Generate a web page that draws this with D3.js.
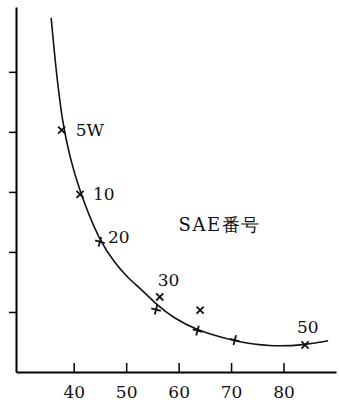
<!DOCTYPE html>
<html>
<head>
<meta charset="utf-8">
<script src="https://cdn.jsdelivr.net/npm/d3@7"></script>
<style>
  html, body { margin: 0; padding: 0; background: #fff; }
  svg { display: block; }
</style>
</head>
<body>
<div id="chart"></div>
<script>
// viscosity curve vs temperature
const curveX = [35.7, 37.7, 41.2, 45.0, 47.9, 50.4, 53.0, 55.8, 59.0, 63.5, 67.3, 70.4, 77.4, 84.1, 88.5];
const curveY = [5.9, 4.03, 2.97, 2.17, 1.81, 1.56, 1.37, 1.12, 0.90, 0.70, 0.60, 0.52, 0.42, 0.45, 0.52];

// measured points (x marks and + marks)
const pointX = [37.7, 41.2, 45.0, 56.4, 55.7, 64.1, 63.6, 70.7, 84.1];
const pointY = [4.03, 2.96, 2.17, 1.25, 1.04, 1.03, 0.69, 0.53, 0.45];
const pointShape = ['x', 'x', '+', 'x', '+', 'x', '+', '+', 'x'];

// SAE grade labels, attached to points by index
const gradeLabels = ['5W', '10', '20', '30', '50'];
const gradePoint = [0, 1, 2, 3, 8];

const xTicks = [40, 50, 60, 70, 80];
const yTicks = [1, 2, 3, 4, 5];
const titleText = 'SAE番号';

const width = 339;
const height = 405;

const svg = d3.select('#chart').append('svg')
  .attr('width', width)
  .attr('height', height);

const x = d3.scaleLinear().domain([29, 90]).range([16, 336]);
const y = d3.scaleLinear().domain([0, 6.08]).range([372, 7]);

const font = '"DejaVu Serif", "Liberation Serif", serif';

// y axis: no labels, ticks to the left
const yAxis = svg.append('g')
  .attr('transform', `translate(${x(29)},0)`)
  .call(d3.axisLeft(y).tickValues(yTicks).tickSize(7).tickSizeOuter(0).tickFormat(''));
yAxis.select('.domain').attr('stroke-width', 2);
yAxis.selectAll('.tick line').attr('stroke-width', 1.5);

// x axis: ticks point up into the plot
const xAxis = svg.append('g')
  .attr('transform', `translate(0,${y(0)})`)
  .call(d3.axisBottom(x).tickValues(xTicks).tickSize(-9).tickSizeOuter(0).tickPadding(14));
xAxis.select('.domain').attr('stroke-width', 2);
xAxis.selectAll('.tick line').attr('stroke-width', 1.5);
xAxis.selectAll('text')
  .attr('font-family', font)
  .attr('font-size', 17)
  .attr('fill', '#111');

const curve = d3.line()
  .x((d, i) => x(curveX[i]))
  .y((d, i) => y(curveY[i]))
  .curve(d3.curveBasis);

svg.append('path')
  .datum(curveX)
  .attr('d', curve)
  .attr('fill', 'none')
  .attr('stroke', '#111')
  .attr('stroke-width', 1.6);

const s = 5;
const marks = svg.append('g')
  .selectAll('g')
  .data(pointX)
  .join('g')
  .attr('transform', (d, i) => `translate(${x(d)},${y(pointY[i])}) rotate(${pointShape[i] === 'x' ? 45 : 15})`);

marks.append('path')
  .attr('d', `M${-s},0H${s}M0,${-s}V${s}`)
  .attr('stroke', '#111')
  .attr('stroke-width', 1.8)
  .attr('fill', 'none');

svg.append('g')
  .selectAll('text')
  .data(gradeLabels)
  .join('text')
  .attr('x', (d, i) => x(pointX[gradePoint[i]]) + [14, 13, 8, -2, -8][i])
  .attr('y', (d, i) => y(pointY[gradePoint[i]]) + [6, 6, 1, -11, -12][i])
  .attr('font-family', font)
  .attr('font-size', 17)
  .attr('fill', '#111')
  .text(d => d);

svg.append('text')
  .attr('x', x(60))
  .attr('y', y(2.35))
  .attr('font-family', font)
  .attr('font-size', 18)
  .attr('letter-spacing', 1.5)
  .attr('fill', '#111')
  .text(titleText);
</script>
</body>
</html>
